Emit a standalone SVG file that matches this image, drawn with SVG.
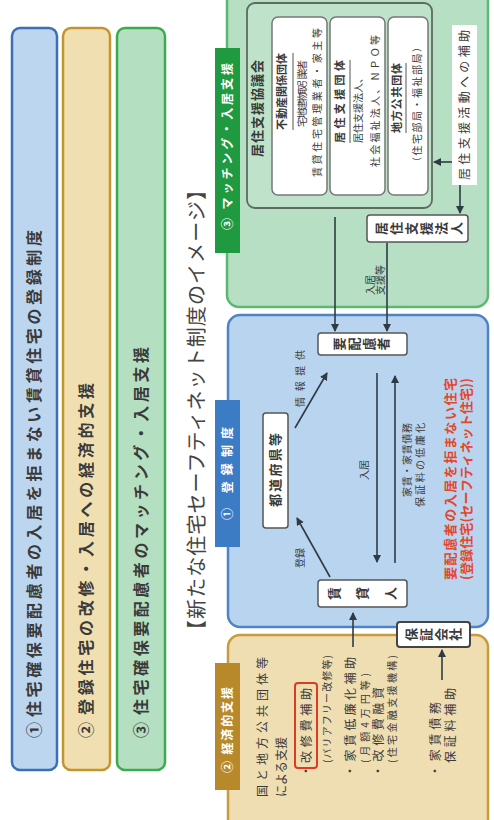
<svg xmlns="http://www.w3.org/2000/svg" width="494" height="820" viewBox="0 0 494 820">
<style>
text{font-family:"Noto Sans CJK JP","Noto Sans",sans-serif;fill:#3a3a3a}
.bar{font-size:16px;font-weight:bold}
.tab{font-size:12px;font-weight:bold;fill:#fff}
.b13{font-size:13px;font-weight:bold}
.t10{font-size:10px}
.t11b{font-size:11px;font-weight:bold}
.t12{font-size:12px}
.red{font-size:13px;font-weight:bold;fill:#e5462c}
.v{writing-mode:vertical-rl}
.wbox{fill:#fff;stroke:#555;stroke-width:1.5}
.ln{stroke:#2f3b44;stroke-width:1.6;fill:none}
</style>
<defs>
<marker id="ah" viewBox="0 0 8 8" refX="7" refY="4" markerWidth="5" markerHeight="5" orient="auto"><path d="M0,0 L8,4 L0,8 z" fill="#2f3b44"/></marker>
</defs>
<rect width="494" height="820" fill="#fff"/>
<g transform="translate(0,820) rotate(-90)">
<g id="bar1">
<rect x="50" y="12" width="742" height="45" rx="8" fill="#bdd6ef" stroke="#3c6fb4" stroke-width="2.5"/>
<text class="bar" x="82" y="40">①</text>
<text class="bar" x="103" y="40" textLength="487" lengthAdjust="spacing">住宅確保要配慮者の入居を拒まない賃貸住宅の登録制度</text>
</g>
<g id="bar2">
<rect x="50" y="63" width="742" height="47" rx="8" fill="#f0dfb1" stroke="#c4952e" stroke-width="2.5"/>
<text class="bar" x="82" y="92">②</text>
<text class="bar" x="105" y="92" textLength="332" lengthAdjust="spacing">登録住宅の改修・入居への経済的支援</text>
</g>
<g id="bar3">
<rect x="50" y="117" width="742" height="48" rx="8" fill="#b4dfc1" stroke="#3cab50" stroke-width="2.5"/>
<text class="bar" x="82" y="147">③</text>
<text class="bar" x="105" y="147" textLength="368" lengthAdjust="spacing">住宅確保要配慮者のマッチング・入居支援</text>
</g>
<text id="title" x="180" y="204" font-size="20" textLength="460" lengthAdjust="spacing" style="fill:#444">【新たな住宅セーフティネット制度のイメージ】</text>

<g id="green">
<rect x="513" y="227" width="330" height="261" rx="12" fill="#b6dfc3" stroke="#5bb870" stroke-width="2.5"/>
<rect x="567" y="215" width="205" height="25" fill="#1f9a40"/>
<text class="tab" x="590" y="232" textLength="167" lengthAdjust="spacing">③ マッチング・入居支援</text>
</g>
<g id="council">
<rect x="612" y="247" width="205" height="185" rx="8" fill="#bfe3ca" stroke="#5d6b5f" stroke-width="1.8"/>
<text class="b13" x="663" y="262" textLength="97" lengthAdjust="spacing">居住支援協議会</text>
</g>
<g id="boxA">
<rect x="625" y="272" width="178" height="55" rx="6" fill="#fff" stroke="#777" stroke-width="1.5"/>
<text class="t11b" x="690" y="286" textLength="77" lengthAdjust="spacing">不動産関係団体</text>
<line x1="690" y1="293" x2="767" y2="293" stroke="#555" stroke-width="1"/>
<text class="t10" x="693" y="306" textLength="67" lengthAdjust="spacing">宅地建物取引業者</text>
<text class="t10" x="643" y="321" textLength="149" lengthAdjust="spacing">賃貸住宅管理業者・家主等</text>
</g>
<g id="boxB">
<rect x="625" y="330" width="178" height="55" rx="6" fill="#fff" stroke="#777" stroke-width="1.5"/>
<text class="t11b" x="677" y="344" textLength="83" lengthAdjust="spacing">居住支援団体</text>
<line x1="677" y1="350" x2="760" y2="350" stroke="#555" stroke-width="1"/>
<text class="t10" x="677" y="362" textLength="70" lengthAdjust="spacing">居住支援法人、</text>
<text class="t10" x="653" y="379" textLength="132" lengthAdjust="spacing">社会福祉法人、ＮＰＯ等</text>
</g>
<g id="boxC">
<rect x="625" y="388" width="178" height="40" rx="6" fill="#fff" stroke="#777" stroke-width="1.5"/>
<text class="t11b" x="687" y="401" textLength="70" lengthAdjust="spacing">地方公共団体</text>
<line x1="687" y1="406" x2="757" y2="406" stroke="#555" stroke-width="1"/>
<text class="t10" x="653" y="421" textLength="125" lengthAdjust="spacing">（住宅部局・福祉部局）</text>
</g>
<g id="subsidy">
<rect x="635" y="452" width="160" height="25" fill="#fff"/>
<text class="t12" x="640" y="469" textLength="150" lengthAdjust="spacing">居住支援活動への補助</text>
</g>
<g id="corp">
<rect x="578" y="367" width="27" height="101" rx="3" class="wbox"/>
<text class="b13 v" x="591.5" y="375" textLength="88" lengthAdjust="spacing">居住支援法人</text>
</g>

<g id="blue">
<rect x="193" y="228" width="312" height="260" rx="12" fill="#b9d4ef" stroke="#4f84c4" stroke-width="2.5"/>
<rect x="273" y="215" width="147" height="25" fill="#3b7cc4"/>
<text class="tab" x="300" y="232" textLength="93" lengthAdjust="spacing">① 登録制度</text>
</g>
<g id="youhairyo">
<rect x="465" y="318" width="22" height="89" rx="3" class="wbox"/>
<text class="b13 v" x="476" y="333" textLength="57" lengthAdjust="spacing">要配慮者</text>
</g>
<g id="todoufuken">
<rect x="292" y="263" width="115" height="25" rx="3" class="wbox"/>
<text class="b13" x="313" y="280" textLength="74" lengthAdjust="spacing">都道府県等</text>
</g>
<g id="chintainin">
<rect x="213" y="318" width="27" height="89" rx="3" class="wbox"/>
<text class="b13 v" x="226.5" y="328" textLength="69" lengthAdjust="spacing">賃貸人</text>
</g>
<text class="red" x="240" y="455" textLength="202" lengthAdjust="spacing">要配慮者の入居を拒まない住宅</text>
<text class="red" x="240" y="471" textLength="202" lengthAdjust="spacing">(登録住宅(セーフティネット住宅))</text>

<g id="tan">
<rect x="-20" y="228" width="205" height="260" rx="12" fill="#efdeb2" stroke="#c89b3c" stroke-width="2.5"/>
<rect x="30" y="215" width="127" height="25" fill="#b8892a"/>
<text class="tab" x="47" y="232" textLength="86" lengthAdjust="spacing">② 経済的支援</text>
<text class="t12" x="23" y="267" textLength="140" lengthAdjust="spacing">国と地方公共団体等</text>
<text class="t12" x="23" y="286" textLength="60" lengthAdjust="spacing">による支援</text>
<text class="t12" x="43" y="311">・</text>
<rect x="52" y="295" width="85" height="22" rx="3" fill="none" stroke="#e03a22" stroke-width="2"/>
<text class="t12" x="57" y="311" textLength="75" lengthAdjust="spacing">改修費補助</text>
<text class="t10" x="57" y="331" textLength="108" lengthAdjust="spacing">(バリアフリー改修等)</text>
<text class="t12" x="43" y="355" textLength="120" lengthAdjust="spacing">・家賃低廉化補助</text>
<text class="t10" x="57" y="369" textLength="90" lengthAdjust="spacing">(月額4万円等)</text>
<text class="t12" x="43" y="383" textLength="90" lengthAdjust="spacing">・改修費融資</text>
<text class="t10" x="57" y="396" textLength="108" lengthAdjust="spacing">(住宅金融支援機構)</text>
<text class="t12" x="43" y="440" textLength="75" lengthAdjust="spacing">・家賃債務</text>
<text class="t12" x="57" y="455" textLength="75" lengthAdjust="spacing">保証料補助</text>
</g>
<g id="hoshou">
<rect x="173" y="397" width="25" height="73" rx="3" fill="#fff" stroke="#444" stroke-width="2"/>
<text class="b13 v" x="185.5" y="405" textLength="57" lengthAdjust="spacing">保証会社</text>
</g>

<g id="connectors">
<line class="ln" x1="658" y1="452" x2="434" y2="434" marker-end="url(#ah)" style="display:none"/>
<line class="ln" x1="658" y1="452" x2="658" y2="434" marker-end="url(#ah)"/>
<line class="ln" x1="635" y1="460" x2="607" y2="460" marker-end="url(#ah)"/>
<line class="ln" x1="603" y1="335" x2="489" y2="335" marker-end="url(#ah)"/>
<line class="ln" x1="577" y1="387" x2="489" y2="387" marker-end="url(#ah)"/>
<text class="t10" x="525" y="374">入居</text>
<text class="t10" x="525" y="384">支援等</text>
<line class="ln" x1="243" y1="330" x2="302" y2="297" marker-end="url(#ah)"/>
<text class="t10" x="252" y="304">登録</text>
<line class="ln" x1="392" y1="295" x2="447" y2="327" marker-end="url(#ah)"/>
<text class="t10" x="413" y="304" textLength="57" lengthAdjust="spacing">情報提供</text>
<line class="ln" x1="447" y1="377" x2="258" y2="377" marker-end="url(#ah)"/>
<line class="ln" x1="257" y1="395" x2="444" y2="395" marker-end="url(#ah)"/>
<text class="t10" x="340" y="368">入居</text>
<text class="t10" x="323" y="411" textLength="74" lengthAdjust="spacing">家賃・家賃債務</text>
<text class="t10" x="313" y="424" textLength="84" lengthAdjust="spacing">保証料の低廉化</text>
<line class="ln" x1="140" y1="442" x2="170" y2="442" marker-end="url(#ah)"/>
<line class="ln" x1="173" y1="353" x2="207" y2="353" marker-end="url(#ah)"/>
</g>
</g>
</svg>
